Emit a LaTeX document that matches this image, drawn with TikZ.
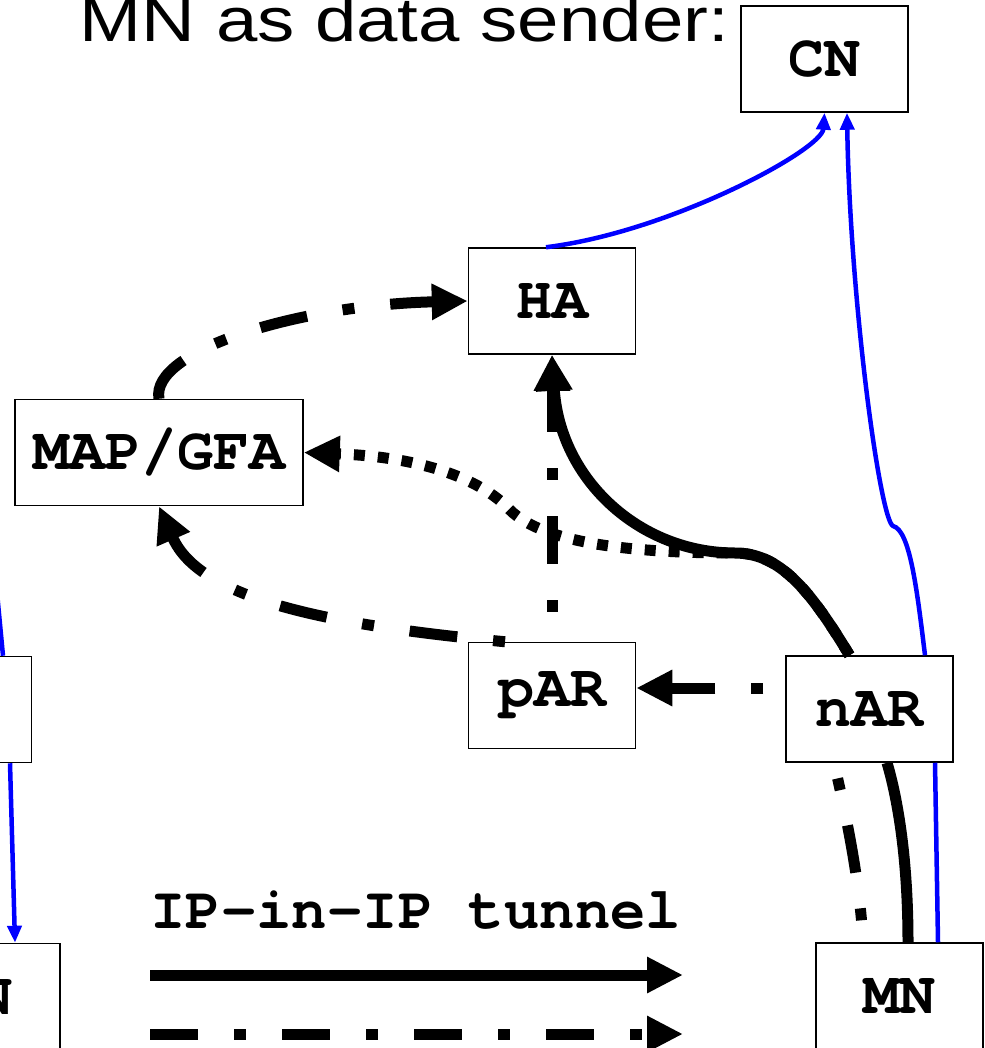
\documentclass[tikz,border=0pt]{standalone}
\usepackage{fontspec}
\setmainfont{Liberation Sans}
\setmonofont{TeX Gyre Cursor}
\usepackage{tikz}
\usetikzlibrary{arrows.meta,positioning}

\begin{document}
\begin{tikzpicture}[x=1pt, y=-1pt, >={Triangle[length=36pt,width=34pt]}]
    \tikzstyle{box}=[draw,line width=1.5pt,fill=white,minimum width=167pt,minimum height=106pt,inner sep=0pt,font=\fontsize{60}{62}\selectfont\ttfamily\bfseries]
    \tikzstyle{tun}=[line width=11pt]
    \tikzstyle{dd}=[line width=11pt,dash pattern=on 48pt off 36pt on 12pt off 36pt]
    \tikzstyle{dots}=[line width=11pt,dash pattern=on 11pt off 13pt]
    \tikzstyle{bl}=[blue,line width=4.5pt,-{Triangle[length=17pt,width=14pt]}]
    \useasboundingbox (0,0) rectangle (984,1048);

    \node[anchor=base west,inner sep=0pt,font=\fontsize{62}{64}\selectfont] (title) at (79.5,42) {\scalebox{1.2}[1]{MN as data sender:}};

    \node[box] (cn) at (824.5,59) {CN};
    \node[box] (ha) at (552,301) {HA};
    \node[box, minimum width=288pt] (map) at (159,452.5) {MAP/GFA};
    \node[box, below=287pt of ha] (par) {pAR};
    \node[box] (nar) at (869.5,709) {nAR};
    \node[box] (mn) at (899.5,996) {MN};
    \node[box] (lar) at (-52,709.5) {};
    \node[box] (lmn) at (-23.5,996.5) {MN};

    % plain routing (blue)
    \draw[bl] ([xshift=-6pt]ha.north) .. controls (670,232) and (822,150) .. (cn.south);
    \draw[bl,-] ([xshift=38.5pt]mn.north) -- ([xshift=65.5pt]nar.south);
    \draw[bl] ([xshift=55.5pt]nar.north) .. controls (917,590) and (910,530) .. (893,526) .. controls (880,520) and (850,300) .. ([xshift=22.5pt]cn.south);
    \coordinate (lin) at (-8,540);
    \draw[bl,-] (lin) -- ([xshift=55pt]lar.north);
    \draw[bl] ([xshift=62pt]lar.south) -- ([xshift=38.5pt]lmn.north);

    % nAR -> MAP/GFA
    \draw[dots,->] ([xshift=-20pt]nar.north) .. controls (810,590) and (780,553) .. (735,553) .. controls (640,553) and (545,545) .. (510,510) .. controls (480,478) and (420,457) .. (map.east);

    % tunnel
    \draw[tun] ([xshift=8.5pt]mn.north) .. controls (908,860) and (898,800) .. ([xshift=17.5pt]nar.south);
    \draw[tun,->] ([xshift=-20pt]nar.north) .. controls (810,590) and (780,553) .. (735,553) .. controls (640,553) and (560,480) .. (ha.south);

    % hop by hop
    \draw[dd,dash phase=62pt] ([xshift=-36.5pt]mn.north) .. controls (860,880) and (845,810) .. ([xshift=-35.5pt]nar.south);
    \draw[dd,dash phase=62pt,->] ([yshift=21pt]nar.west) -- ([yshift=21pt]nar.west -| par.east);
    \draw[dd,dash phase=84pt,->] ([xshift=-47pt]par.north) .. controls (330,625) and (200,600) .. (map.south);
    \draw[dd,->] (map.north) .. controls (150,350) and (300,305) .. (ha.west);
    \draw[dd,dash phase=54pt,->] (par.north) -- (ha.south);

    % legend
    \node[anchor=base west,inner sep=0pt,font=\fontsize{59}{60}\selectfont\ttfamily\bfseries] (tunnel) at (150,928) {IP-in-IP tunnel};
    \coordinate (ta) at (150,975);
    \coordinate (tb) at (683,975);
    \coordinate (da) at (150,1034);
    \coordinate (db) at (683,1034);
    \draw[tun,->] (ta) -- (tb);
    \draw[dd,->] (da) -- (db);
\end{tikzpicture}
\end{document}
